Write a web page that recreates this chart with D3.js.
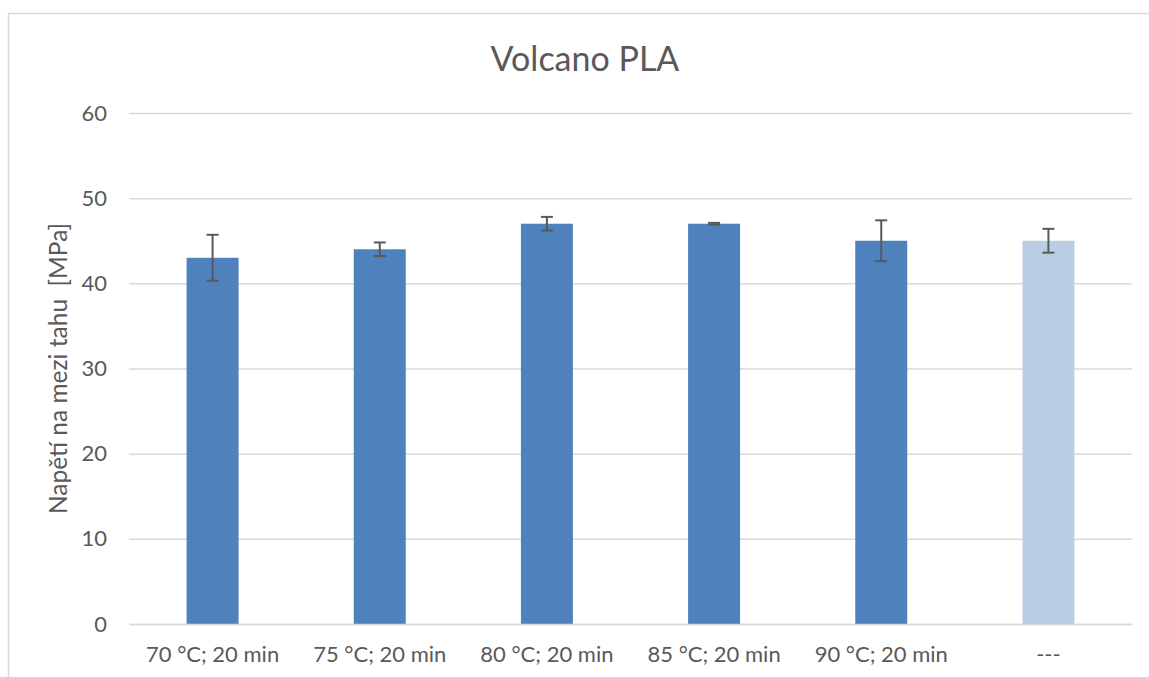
<!DOCTYPE html>
<html>
<head>
<meta charset="utf-8">
<script src="https://cdn.jsdelivr.net/npm/d3@7"></script>
<style>
  html, body { margin: 0; padding: 0; background: #ffffff; }
  svg { display: block; }
  text { font-family: Lato, "Open Sans", "Liberation Sans", sans-serif; fill: #595959; }
</style>
</head>
<body>
<svg id="chart" width="1149" height="677"></svg>
<script>
const categories = ["70 °C; 20 min", "75 °C; 20 min", "80 °C; 20 min", "85 °C; 20 min", "90 °C; 20 min", "---"];
const values = [43, 44, 47, 47, 45, 45];
const errors = [2.7, 0.8, 0.8, 0.1, 2.4, 1.4];
const barColors = ["#4F81BD", "#4F81BD", "#4F81BD", "#4F81BD", "#4F81BD", "#B9CDE5"];
const yTicks = [0, 10, 20, 30, 40, 50, 60];
const title = "Volcano PLA";
const yTitle = "Napětí na mezi tahu  [MPa]";

const svg = d3.select("#chart");
const W = 1149, H = 677;
const plot = { left: 129, right: 1132, top: 113, bottom: 624 };

// chart area border
svg.append("rect")
  .attr("x", 8.5).attr("y", 13.5)
  .attr("width", W + 20).attr("height", H + 20)
  .attr("fill", "#ffffff")
  .attr("stroke", "#D9D9D9").attr("stroke-width", 1.5);

const pad = 0.689;
const x = d3.scaleBand().domain(categories)
  .range([plot.left, plot.right])
  .paddingInner(pad).paddingOuter(pad / 2);
const y = d3.scaleLinear().domain([0, 60]).range([plot.bottom, plot.top]);

// gridlines
const yAxis = d3.axisLeft(y).tickValues(yTicks).tickSize(-(plot.right - plot.left)).tickPadding(22);
const gy = svg.append("g").attr("transform", `translate(${plot.left},0)`).call(yAxis);
gy.select(".domain").remove();
gy.selectAll(".tick line").attr("stroke", "#D9D9D9").attr("stroke-width", 1.5);
gy.selectAll(".tick text").attr("font-size", 22).attr("fill", "#595959")
  .style("font-family", "Lato, 'Open Sans', sans-serif");

// bars
svg.append("g").selectAll("rect").data(categories).join("rect")
  .attr("x", d => x(d))
  .attr("width", x.bandwidth())
  .attr("y", (d, i) => y(values[i]))
  .attr("height", (d, i) => y(0) - y(values[i]))
  .attr("fill", (d, i) => barColors[i]);

// baseline (category axis)
const xAxis = d3.axisBottom(x).tickSize(0).tickPadding(22);
const gx = svg.append("g").attr("transform", `translate(0,${plot.bottom})`).call(xAxis);
gx.select(".domain").attr("stroke", "#D9D9D9").attr("stroke-width", 1.5);
gx.selectAll(".tick text").attr("font-size", 22).attr("fill", "#595959")
  .style("font-family", "Lato, 'Open Sans', sans-serif");

// error bars
const eb = svg.append("g").attr("stroke", "#595959").attr("stroke-width", 2);
const capHalf = 6;
categories.forEach((c, i) => {
  const cx = x(c) + x.bandwidth() / 2;
  const y1 = y(values[i] + errors[i]), y2 = y(values[i] - errors[i]);
  eb.append("line").attr("x1", cx).attr("x2", cx).attr("y1", y1).attr("y2", y2);
  eb.append("line").attr("x1", cx - capHalf).attr("x2", cx + capHalf).attr("y1", y1).attr("y2", y1);
  eb.append("line").attr("x1", cx - capHalf).attr("x2", cx + capHalf).attr("y1", y2).attr("y2", y2);
});

// title
svg.append("text").attr("x", 585).attr("y", 71)
  .attr("text-anchor", "middle").attr("font-size", 34)
  .text(title);

// y axis title
svg.append("text")
  .attr("transform", `translate(67,${(plot.top + plot.bottom) / 2}) rotate(-90)`)
  .attr("text-anchor", "middle").attr("font-size", 24.5)
  .style("white-space", "pre")
  .attr("xml:space", "preserve")
  .text(yTitle);
</script>
</body>
</html>
